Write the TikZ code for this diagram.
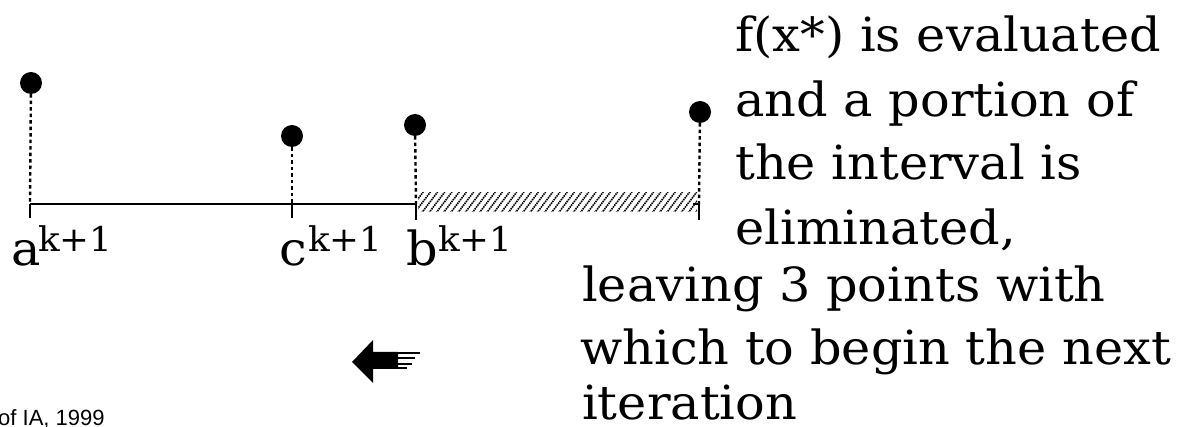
\documentclass[tikz,border=0pt]{standalone}
\usepackage{fontspec}
\setmainfont[FakeStretch=1.05]{DejaVu Serif}
\setsansfont{Liberation Sans}
\begin{document}
\begin{tikzpicture}[x=1pt,y=-1pt,
  txt/.style={anchor=base west,inner sep=0pt,font=\fontsize{47}{56}\selectfont},
  lbl/.style={anchor=base west,inner sep=0pt,font=\fontsize{47}{56}\selectfont},
  sup/.style={anchor=base west,inner sep=0pt,font=\fontsize{34}{40}\selectfont},
  dotpt/.style={circle,fill=black,inner sep=0pt,minimum size=22pt},
  stem/.style={line width=2.4pt,dash pattern=on 3.5pt off 3pt},
  axis/.style={line width=2pt},
  hatch/.style={line width=1.6pt,dash pattern=on 1.5pt off 0.8pt}]
\useasboundingbox (0,0) rectangle (1186,427);
% points
\node[dotpt] (pa) at (31,83) {};
\node[dotpt] (pc) at (292,136) {};
\node[dotpt] (pb) at (415,125) {};
\node[dotpt] (px) at (700,112) {};
% axis coordinates
\coordinate (xa) at (30,204);
\coordinate (xc) at (292,204);
\coordinate (xb) at (416,204);
\coordinate (xr) at (699,204);
\coordinate (ta) at (30,218);
\coordinate (tc) at (292,218);
\coordinate (tb) at (416,220);
\coordinate (tr) at (699,220);
% stems
\draw[stem] (pa) -- (xa);
\draw[stem] (pc) -- (xc);
\draw[stem] (pb) -- (xb);
\draw[stem] (px) -- (xr);
% axis and ticks
\draw[axis] (xa) -- (xb);
\draw[axis] (ta) -- (xa);
\draw[axis] (tc) -- (xc);
\draw[axis] (tb) -- (xb);
\draw[axis] (tr) -- (xr) -- ++(-6,0);
% hatched eliminated part
\begin{scope}
\clip (418,193) rectangle (697,212);
\foreach \i in {0,...,42} {
  \draw[hatch] (400+7.2*\i,213) -- ++(16,-21);
}
\end{scope}
% labels
\node[lbl] (la) at (11,266) {a};
\node[sup] (sa) at (38,252) {k+1};
\node[lbl] (lc) at (279,266) {c};
\node[sup] (sc) at (308,252) {k+1};
\node[lbl] (lb) at (406,266) {b};
\node[sup] (sb) at (438,252) {k+1};
% arrow
\fill (352,362) -- (373,340) -- (373,352) -- (398,352) -- (398,369) -- (373,369) -- (373,383) -- cycle;
\coordinate (s1a) at (396,353.5); \coordinate (s1b) at (420,353.5);
\coordinate (s2a) at (396,358.5); \coordinate (s2b) at (415,358.5);
\coordinate (s3a) at (396,364);   \coordinate (s3b) at (412,364);
\coordinate (s4a) at (396,368.5); \coordinate (s4b) at (407,368.5);
\draw[line width=2pt] (s1a) -- (s1b);
\draw[line width=2pt] (s2a) -- (s2b);
\draw[line width=2pt] (s3a) -- (s3b);
\draw[line width=2pt] (s4a) -- (s4b);
% text
\node[txt] (t1) at (735,52) {f(x*) is evaluated};
\node[txt] (t2) at (735,117) {and a portion of};
\node[txt] (t3) at (735,180) {the interval is};
\node[txt] (t4) at (735,245) {eliminated,};
\node[txt] (t5) at (582,302) {leaving 3 points with};
\node[txt] (t6) at (580,365) {which to begin the next};
\node[txt] (t7) at (582,419) {iteration};
% credit
\node[anchor=base west,inner sep=0pt,font=\sffamily\fontsize{22}{26}\selectfont] (cr) at (-2,425) {of IA, 1999};
\end{tikzpicture}
\end{document}
